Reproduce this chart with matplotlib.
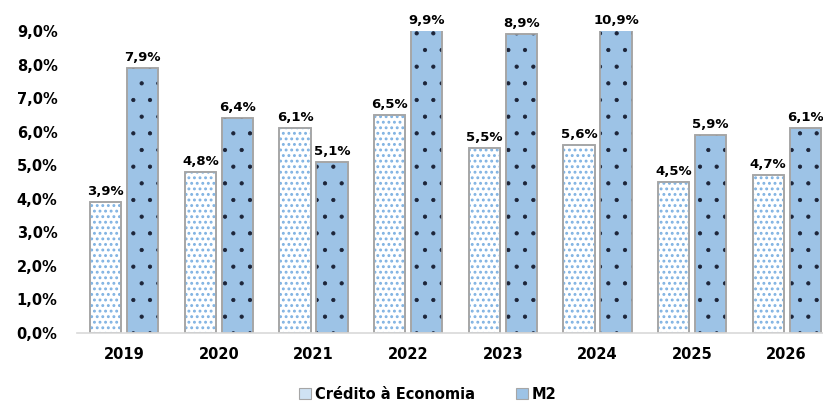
import matplotlib
matplotlib.use("Agg")
import matplotlib.pyplot as plt
import numpy as np
from matplotlib.patches import Patch

years = ["2019", "2020", "2021", "2022", "2023", "2024", "2025", "2026"]
credito = [3.9, 4.8, 6.1, 6.5, 5.5, 5.6, 4.5, 4.7]
m2 = [7.9, 6.4, 5.1, 9.9, 8.9, 10.9, 5.9, 6.1]
yticks = [0, 1, 2, 3, 4, 5, 6, 7, 8, 9]

def fmt(v):
    return f"{v:.1f}%".replace(".", ",")

plt.rcParams['font.family'] = ['DejaVu Sans']
plt.rcParams['hatch.linewidth'] = 0.6

fig = plt.figure(figsize=(8.23, 4.03), dpi=100)
ax = fig.add_axes([77/823, 70/403, (834-77)/823, (333-31)/403])

x = np.arange(len(years))
w = 0.33
off = 0.196
ymax = 9.0
edge = '#a6a6a6'
m2_face = '#9dc3e6'
dot_light = '#7fb2e2'

# Crédito bars
ax.bar(x - off, credito, w, facecolor='white', edgecolor=edge, linewidth=1.2, zorder=2)
with plt.rc_context({'hatch.linewidth': 1.3}):
    cb = ax.bar(x - off, credito, w, facecolor='none', edgecolor=dot_light, linewidth=0, hatch='...', zorder=3)
    for p in cb:
        if hasattr(p, 'set_hatch_linewidth'):
            p.set_hatch_linewidth(1.3)
ax.bar(x - off, credito, w, facecolor='none', edgecolor=edge, linewidth=1.2, zorder=4)
# M2 bars
ax.bar(x + off, m2, w, facecolor=m2_face, edgecolor=edge, linewidth=1.2, zorder=2)
mb = ax.bar(x + off, m2, w, facecolor='none', edgecolor='#1c2438', linewidth=0, hatch='.', zorder=3)
for p in mb:
    if hasattr(p, 'set_hatch_linewidth'):
        p.set_hatch_linewidth(0.6)
ax.bar(x + off, m2, w, facecolor='none', edgecolor=edge, linewidth=1.2, zorder=4)

for xi, v in zip(x - off, credito):
    ax.annotate(fmt(v), (xi, min(v, ymax)), xytext=(0, 3), textcoords='offset points',
                ha='center', va='bottom', fontsize=9.5, fontweight='bold', annotation_clip=False)
for xi, v in zip(x + off, m2):
    ax.annotate(fmt(v), (xi, min(v, ymax)), xytext=(0, 3), textcoords='offset points',
                ha='center', va='bottom', fontsize=9.5, fontweight='bold', annotation_clip=False)

ax.set_xlim(-0.5, len(years) - 0.5)
ax.set_ylim(0, ymax)
ax.set_yticks(yticks)
ax.set_yticklabels([fmt(v) for v in yticks], fontsize=10.5, fontweight='bold')
ax.set_xticks(x)
ax.set_xticklabels(years, fontsize=10.5, fontweight='bold')
ax.tick_params(axis='both', length=0)
ax.tick_params(axis='y', pad=14)
ax.tick_params(axis='x', pad=10)
for s in ['top', 'right', 'left']:
    ax.spines[s].set_visible(False)
ax.spines['bottom'].set_color('#d9d9d9')
ax.spines['bottom'].set_linewidth(1.2)
ax.spines['bottom'].set_zorder(5)

handles = [Patch(facecolor='#cfe2f3', edgecolor='#a6a6a6', linewidth=0.8),
           Patch(facecolor=m2_face, edgecolor='#a6a6a6', linewidth=0.8)]
leg = fig.legend(handles, ["Crédito à Economia", "M2"], loc='lower center', ncol=2,
                 bbox_to_anchor=(0.52, -0.03), frameon=False,
                 prop={'weight': 'bold', 'size': 10.5}, handlelength=0.8, handleheight=0.8,
                 handletextpad=0.3, columnspacing=2.8)

fig.savefig("out.png", dpi=100)
